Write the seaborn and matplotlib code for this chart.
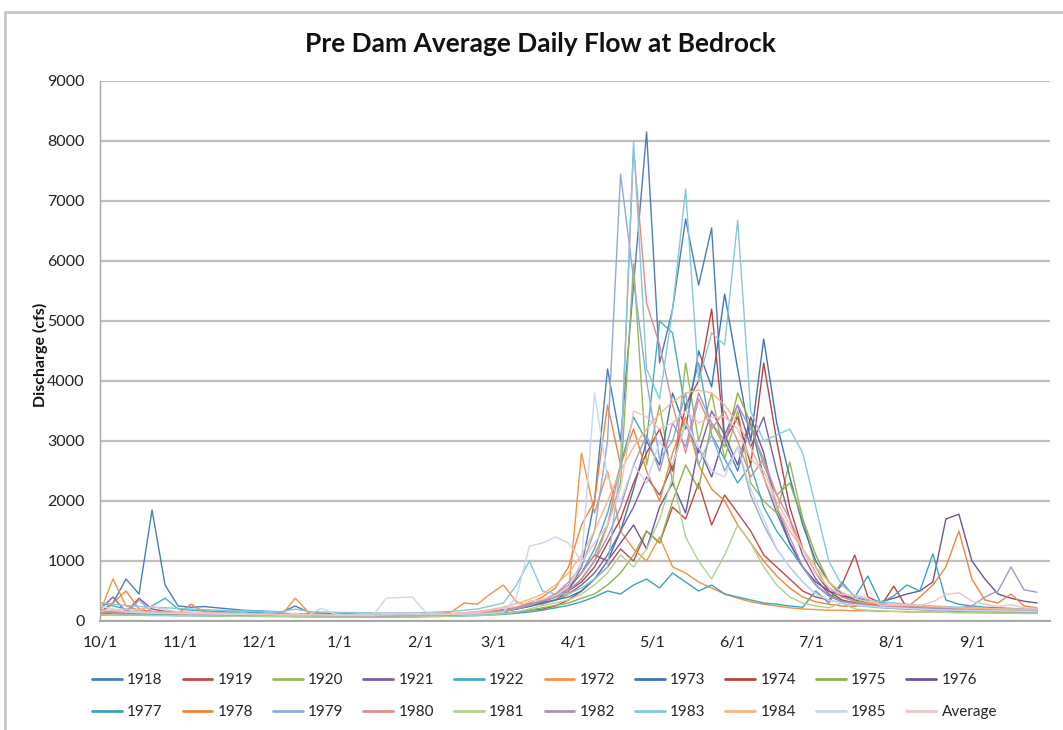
import matplotlib
matplotlib.use("Agg")
import matplotlib.pyplot as plt
from matplotlib.lines import Line2D
from matplotlib.patches import Rectangle
import pandas as pd
import seaborn as sns

# Day of the water year (Oct 1 = day 0), sampled every 5 days
days = list(range(0, 365, 5))

month_ticks = [0, 31, 61, 92, 123, 151, 182, 212, 243, 273, 304, 335]
month_labels = ["10/1", "11/1", "12/1", "1/1", "2/1", "3/1",
                "4/1", "5/1", "6/1", "7/1", "8/1", "9/1"]

years = ["1918", "1919", "1920", "1921", "1922", "1972", "1973", "1974", "1975",
         "1976", "1977", "1978", "1979", "1980", "1981", "1982", "1983", "1984",
         "1985", "Average"]

# Discharge (cfs); one value per 5-day step, Oct .. Sep
flow_1918 = [150, 300, 700, 450, 1850, 600,
             250, 230, 240, 220, 200, 180,
             170, 160, 150, 250, 150, 130,
             120, 120, 110, 110, 100, 110,
             100, 110, 100, 120, 130, 140,
             160, 180, 220, 250, 300, 350,
             500, 900, 2000, 4200, 3000, 5600,
             8150, 4300, 5200, 6700, 5600, 6550,
             3000, 2500, 3300, 2400, 1800, 1300,
             900, 600, 420, 330, 300, 280,
             260, 240, 230, 250, 220, 210,
             200, 190, 180, 200, 190, 180, 170]
flow_1919 = [120, 130, 140, 130, 120, 120,
             110, 110, 100, 100, 100, 95,
             90, 90, 85, 85, 80, 80,
             80, 80, 75, 75, 80, 80,
             80, 85, 85, 90, 95, 100,
             110, 130, 150, 180, 200, 250,
             350, 500, 700, 900, 1200, 1000,
             1500, 1300, 1900, 1700, 2300, 1600,
             2100, 1800, 1500, 1100, 900, 700,
             500, 400, 350, 600, 1100, 400,
             300, 250, 220, 200, 200, 190,
             180, 170, 170, 160, 160, 150, 150]
flow_1920 = [100, 110, 120, 110, 100, 100,
             95, 95, 90, 90, 85, 85,
             80, 80, 80, 75, 75, 75,
             70, 70, 70, 70, 75, 75,
             80, 80, 85, 90, 100, 110,
             130, 160, 200, 260, 320, 400,
             500, 700, 1000, 1600, 2300, 5950,
             2600, 3600, 2300, 4300, 3000, 3800,
             2700, 3500, 2300, 2000, 1800, 2650,
             1700, 900, 500, 350, 280, 250,
             230, 210, 200, 190, 180, 170,
             160, 160, 150, 150, 150, 140, 140]
flow_1921 = [200, 400, 150, 380, 200, 160,
             150, 140, 140, 130, 130, 120,
             120, 110, 110, 100, 100, 100,
             95, 95, 90, 90, 90, 95,
             95, 100, 100, 110, 120, 130,
             150, 170, 200, 250, 300, 350,
             450, 600, 800, 1100, 1500, 1900,
             2400, 2100, 2600, 3300, 2800, 3500,
             3100, 3600, 2900, 3400, 2500, 1700,
             1100, 700, 450, 320, 280, 250,
             230, 220, 210, 200, 190, 180,
             170, 170, 160, 160, 150, 150, 150]
flow_1922 = [300, 250, 200, 180, 250, 380,
             200, 180, 170, 160, 150, 150,
             140, 130, 130, 120, 120, 115,
             110, 110, 105, 105, 100, 100,
             100, 105, 110, 115, 125, 140,
             160, 190, 230, 280, 330, 400,
             550, 800, 1200, 1800, 2600, 3400,
             3000, 5000, 4800, 3500, 4300, 3100,
             2700, 2300, 2600, 1900, 1500, 1200,
             900, 600, 420, 320, 280, 250,
             230, 220, 210, 200, 190, 180,
             170, 160, 160, 155, 150, 150, 145]
flow_1972 = [150, 700, 250, 180, 160, 150,
             140, 130, 130, 120, 120, 115,
             110, 110, 110, 380, 150, 110,
             100, 100, 95, 95, 95, 100,
             100, 110, 120, 150, 300, 280,
             450, 600, 320, 260, 280, 350,
             450, 2800, 1800, 2500, 1500, 1200,
             1000, 1400, 900, 800, 650, 550,
             450, 380, 320, 280, 250, 220,
             200, 190, 180, 180, 170, 170,
             160, 160, 150, 150, 150, 145,
             140, 140, 135, 135, 130, 130, 130]
flow_1973 = [130, 140, 130, 120, 120, 115,
             110, 110, 105, 100, 100, 100,
             95, 95, 90, 90, 85, 85,
             80, 80, 80, 80, 85, 85,
             85, 90, 90, 100, 110, 120,
             140, 160, 200, 240, 300, 350,
             400, 500, 700, 1000, 1500, 2200,
             3000, 2600, 3800, 3200, 4500, 3900,
             5450, 4200, 3000, 4700, 3300, 2400,
             1600, 1000, 650, 450, 350, 300,
             270, 250, 230, 220, 210, 200,
             190, 180, 175, 170, 165, 160, 160]
flow_1974 = [160, 150, 140, 140, 130, 130,
             120, 120, 115, 110, 110, 105,
             100, 100, 95, 95, 90, 90,
             90, 85, 85, 85, 85, 90,
             90, 95, 100, 105, 115, 130,
             150, 180, 220, 270, 330, 400,
             500, 650, 900, 1300, 1700, 2300,
             2800, 3200, 2500, 3600, 4000, 5200,
             3000, 3400, 2600, 4300, 3000, 1900,
             1200, 800, 500, 350, 300, 270,
             250, 580, 220, 210, 200, 190,
             180, 180, 170, 170, 165, 160, 160]
flow_1975 = [120, 110, 110, 100, 100, 100,
             95, 95, 90, 90, 85, 85,
             80, 80, 80, 80, 75, 75,
             75, 70, 70, 70, 70, 75,
             75, 80, 80, 85, 90, 100,
             110, 130, 150, 180, 220, 260,
             300, 380, 450, 600, 800, 1100,
             1500, 1300, 2000, 2600, 2200, 3300,
             2900, 3800, 3300, 2600, 2100, 2300,
             1700, 1100, 650, 420, 320, 270,
             240, 220, 210, 200, 190, 180,
             170, 165, 160, 155, 150, 150, 145]
flow_1976 = [140, 130, 130, 120, 120, 115,
             110, 110, 105, 100, 100, 100,
             95, 95, 90, 90, 90, 85,
             85, 85, 80, 80, 85, 85,
             85, 90, 95, 100, 110, 120,
             140, 170, 200, 260, 330, 420,
             550, 800, 1100, 1000, 1300, 1600,
             1200, 1900, 2300, 1800, 2900, 2400,
             3100, 2600, 3400, 2800, 1900, 1300,
             900, 650, 500, 420, 380, 350,
             320, 380, 450, 500, 650, 1700,
             1780, 1000, 700, 450, 380, 330, 300]
flow_1977 = [140, 130, 120, 120, 110, 110,
             105, 100, 100, 95, 95, 90,
             90, 85, 85, 80, 80, 80,
             75, 75, 75, 70, 70, 70,
             70, 75, 75, 80, 85, 90,
             100, 110, 130, 150, 180, 220,
             260, 320, 400, 500, 450, 600,
             700, 550, 800, 650, 500, 600,
             450, 400, 350, 300, 280, 250,
             230, 500, 300, 650, 400, 750,
             300, 420, 600, 500, 1120, 350,
             280, 250, 230, 220, 210, 200, 200]
flow_1978 = [110, 300, 500, 200, 150, 140,
             130, 280, 150, 130, 120, 115,
             110, 110, 105, 100, 100, 95,
             95, 95, 90, 90, 90, 95,
             95, 100, 100, 110, 120, 130,
             150, 180, 220, 300, 400, 550,
             900, 1600, 2000, 3600, 2600, 3200,
             2500, 2000, 2800, 3400, 2600, 2200,
             2000, 1600, 1300, 1000, 750, 550,
             400, 320, 280, 250, 240, 300,
             230, 250, 220, 400, 600, 900,
             1500, 700, 350, 300, 450, 250, 220]
flow_1979 = [100, 100, 95, 95, 90, 90,
             85, 85, 85, 80, 80, 80,
             75, 75, 75, 70, 70, 70,
             70, 70, 65, 65, 70, 70,
             70, 75, 80, 85, 95, 110,
             130, 160, 200, 260, 340, 450,
             650, 900, 1500, 3000, 7450, 5700,
             4000, 2700, 3000, 3800, 2600, 3100,
             2500, 2900, 2100, 1600, 1200, 900,
             650, 450, 350, 300, 260, 240,
             220, 210, 200, 190, 180, 175,
             170, 165, 160, 160, 155, 150, 150]
flow_1980 = [150, 140, 140, 130, 130, 125,
             120, 115, 115, 110, 110, 105,
             100, 100, 100, 95, 95, 95,
             90, 90, 90, 90, 95, 95,
             95, 100, 100, 110, 120, 130,
             150, 180, 220, 280, 350, 450,
             600, 800, 1100, 1600, 2600, 7870,
             5300, 4600, 3600, 2800, 3700, 3200,
             3500, 3000, 2400, 2700, 2100, 1700,
             1200, 800, 550, 400, 330, 300,
             270, 250, 240, 230, 220, 210,
             200, 190, 185, 180, 175, 170, 170]
flow_1981 = [110, 105, 100, 100, 95, 95,
             90, 90, 85, 85, 80, 80,
             80, 75, 75, 75, 70, 70,
             70, 70, 70, 70, 70, 70,
             70, 70, 75, 80, 85, 90,
             100, 120, 150, 200, 260, 300,
             350, 450, 600, 800, 1100, 900,
             1200, 1700, 2400, 1400, 1000, 700,
             1100, 1600, 1300, 900, 600, 400,
             300, 250, 220, 300, 200, 180,
             170, 160, 160, 150, 150, 145,
             140, 140, 135, 130, 130, 125, 125]
flow_1982 = [200, 130, 120, 350, 150, 130,
             125, 120, 115, 110, 110, 105,
             100, 100, 95, 95, 95, 90,
             90, 90, 85, 85, 85, 90,
             90, 95, 100, 100, 110, 120,
             140, 170, 210, 260, 330, 400,
             500, 700, 1000, 1400, 1900, 2600,
             3100, 2500, 3300, 2900, 3800, 3300,
             3000, 3600, 3200, 2700, 1900, 1400,
             900, 600, 420, 330, 290, 260,
             240, 230, 220, 210, 200, 200,
             220, 250, 400, 500, 900, 520, 480]
flow_1983 = [300, 280, 260, 240, 230, 220,
             210, 200, 190, 180, 175, 170,
             165, 160, 155, 200, 160, 150,
             145, 140, 140, 135, 135, 135,
             135, 140, 150, 160, 180, 200,
             250, 300, 600, 1000, 500, 450,
             450, 550, 700, 900, 2600, 8000,
             4200, 3700, 5200, 7200, 4000, 4800,
             4600, 6680, 3500, 3000, 3100, 3200,
             2800, 1900, 1000, 600, 420, 350,
             320, 300, 280, 260, 250, 240,
             230, 220, 210, 200, 200, 190, 190]
flow_1984 = [180, 170, 160, 150, 150, 145,
             140, 135, 130, 130, 125, 120,
             115, 115, 110, 110, 105, 105,
             100, 100, 100, 100, 100, 105,
             105, 110, 115, 125, 140, 160,
             190, 230, 290, 360, 450, 600,
             800, 1100, 1500, 2000, 2500, 2900,
             3200, 3450, 3650, 3800, 3850, 3800,
             3600, 3300, 2900, 2400, 1900, 1500,
             1200, 900, 650, 480, 380, 320,
             290, 270, 260, 250, 240, 230,
             220, 210, 210, 200, 200, 195, 190]
flow_1985 = [250, 200, 150, 140, 130, 130,
             125, 120, 120, 115, 110, 110,
             105, 105, 100, 100, 100, 210,
             120, 100, 100, 100, 380, 390,
             400, 150, 110, 110, 115, 120,
             130, 150, 400, 1250, 1300, 1400,
             1300, 1000, 3800, 2400, 2000, 2600,
             2300, 3000, 2600, 3300, 2900, 2500,
             2400, 2900, 2200, 1700, 1200, 900,
             650, 450, 350, 300, 270, 250,
             230, 220, 210, 200, 190, 185,
             180, 175, 170, 170, 165, 160, 160]
flow_avg = [160, 190, 200, 180, 240, 190,
            150, 145, 135, 130, 125, 120,
            115, 110, 105, 125, 105, 100,
            95, 95, 90, 90, 110, 110,
            110, 105, 105, 115, 130, 145,
            175, 220, 240, 330, 360, 420,
            560, 980, 1300, 1600, 2200, 3500,
            3400, 3200, 3300, 3500, 3300, 3400,
            3400, 3200, 2700, 2500, 2000, 1600,
            1200, 800, 560, 440, 430, 380,
            260, 260, 270, 260, 320, 440,
            470, 330, 280, 240, 270, 220, 210]

flows = [flow_1918, flow_1919, flow_1920, flow_1921, flow_1922, flow_1972,
         flow_1973, flow_1974, flow_1975, flow_1976, flow_1977, flow_1978,
         flow_1979, flow_1980, flow_1981, flow_1982, flow_1983, flow_1984,
         flow_1985, flow_avg]

line_colors = ["#4A7EBB", "#BE4B48", "#98B954", "#7D60A0", "#46AAC5", "#F69240",
               "#3F74B8", "#B9433F", "#8DB04A", "#6F5596", "#3BA3BD", "#F28535",
               "#90A9DC", "#DE8D8B", "#AFD28C", "#A895C6", "#84C8DC", "#FAB584",
               "#C9D7EC", "#ECC3C9"]

for name, vals in zip(years, flows):
    if len(vals) != len(days):
        raise ValueError(f"{name}: {len(vals)} values")

df = pd.concat(
    [pd.DataFrame({"day": days, "cfs": vals, "series": name})
     for name, vals in zip(years, flows)],
    ignore_index=True,
)
palette = dict(zip(years, line_colors))

sns.set_style("white")
plt.rcParams["font.family"] = ["Lato", "DejaVu Sans"]

fig = plt.figure(figsize=(10.63, 7.30), dpi=100)
W, H = 1063, 730
ax = fig.add_axes([100 / W, 1 - 621 / H, 950 / W, 540 / H])

sns.lineplot(data=df, x="day", y="cfs", hue="series", hue_order=years,
             palette=palette, estimator=None, sort=False, linewidth=1.0,
             legend=False, ax=ax)

ax.set_xlim(0, 365)
ax.set_ylim(0, 9000)
ax.set_yticks(range(0, 9001, 1000))
ax.set_xticks(month_ticks)
ax.set_xticklabels(month_labels)
ax.tick_params(axis="both", length=0, labelsize=11.5, colors="#222222")
ax.tick_params(axis="x", pad=11)
ax.tick_params(axis="y", pad=11)
ax.yaxis.grid(True, color="#BFBFBF", linewidth=1.6)
ax.set_axisbelow(True)
for side in ["top", "right"]:
    ax.spines[side].set_visible(False)
ax.spines["left"].set_color("#A6A6A6")
ax.spines["bottom"].set_color("#A6A6A6")
ax.spines["left"].set_linewidth(1.0)
ax.spines["bottom"].set_linewidth(1.4)
ax.set_xlabel("")
ax.set_ylabel("")

fig.text(540 / W, 1 - 44 / H, "Pre Dam Average Daily Flow at Bedrock",
         ha="center", va="center", fontsize=19, fontweight="bold", color="#111111")
fig.text(40 / W, 1 - 355 / H, "Discharge (cfs)", rotation=90,
         ha="center", va="center", fontsize=11.5, fontweight="bold", color="#111111")

# Chart frame
fig.patches.append(Rectangle((5 / W, -0.05), 1.2, 1 - 12 / H + 0.05,
                             transform=fig.transFigure, fill=False,
                             edgecolor="#C8C8C8", linewidth=2.0))

handles = [Line2D([0], [0], color=c, linewidth=2.0) for c in line_colors]
order = []
for j in range(10):
    order += [j, j + 10]
leg = fig.legend([handles[k] for k in order], [years[k] for k in order],
                 ncol=10, loc="upper left", bbox_to_anchor=(92 / W, 1 - 673 / H),
                 frameon=False, fontsize=11, handlelength=1.96, handletextpad=0.33,
                 columnspacing=1.31, labelspacing=1.2, borderpad=0, borderaxespad=0)

fig.savefig("out.png", dpi=100, facecolor="white")
